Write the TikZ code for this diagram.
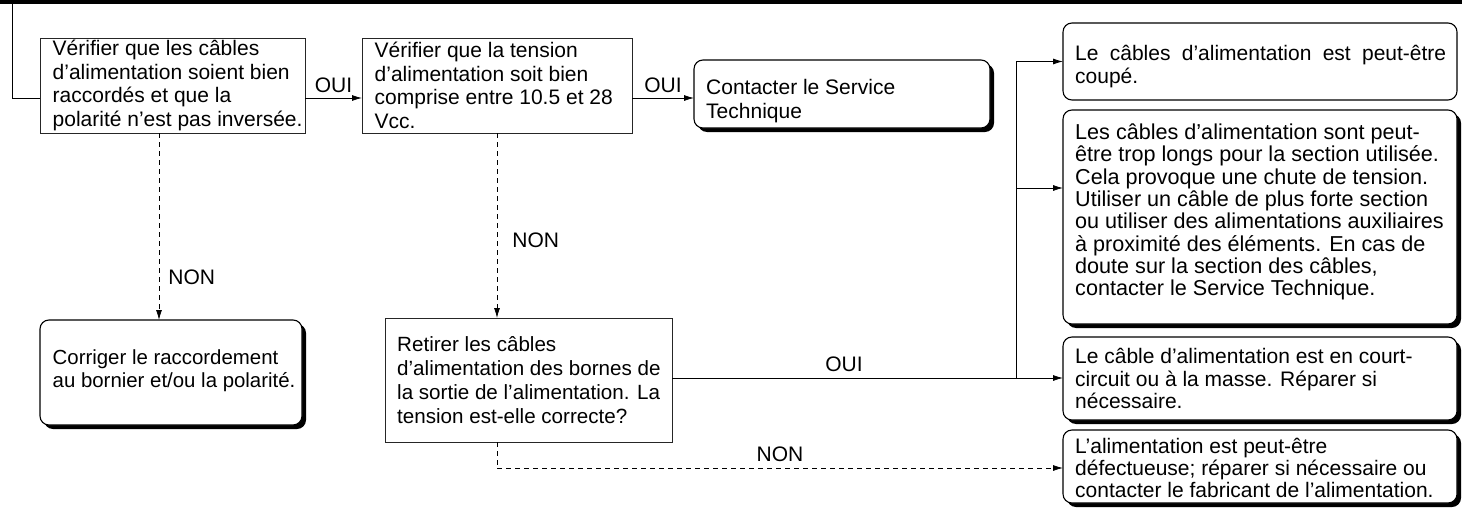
\documentclass[tikz,border=0pt]{standalone}
\usepackage{fontspec}
\setmainfont{Liberation Sans}
\usetikzlibrary{arrows.meta,shadows}
\begin{document}
\begin{tikzpicture}[x=1pt,y=-1pt,
  txt/.style={font=\fontsize{21}{23.5}\selectfont},
  sqbox/.style={draw=black!85, line width=0.8pt, rectangle, anchor=north west,
    inner sep=0pt, outer sep=0pt, fill=white},
  rbox/.style={sqbox, draw=black, rounded corners=9pt, line width=1.1pt},
  shbox/.style={rbox, general shadow={fill=black, shadow xshift=4pt, shadow yshift=-4pt}},
  btxt/.style={txt, anchor=west, align=left, inner sep=0pt},
  conn/.style={line width=0.8pt},
  arr/.style={conn, -{Latex[length=10pt,width=6pt]}},
  darr/.style={arr, dash pattern=on 5pt off 4pt},
  dline/.style={conn, dash pattern=on 5pt off 4pt},
  lbl/.style={txt, inner sep=0pt}
]
\useasboundingbox (0,0) rectangle (1467,511);
% top rule
\draw[line width=4pt] (0,2) -- (1462,2);
\coordinate (tl) at (12,2);
\coordinate (ya) at (0,98);
\coordinate (xa) at (159,0);
\coordinate (xb) at (497,0);
\coordinate (yo) at (0,378);
\coordinate (yn) at (0,468);
\coordinate (yv) at (0,188);
\coordinate (xv) at (1016,0);

% boxes
\node[sqbox, minimum width=265pt, minimum height=95pt] (b1) at (40,38) {};
\node[sqbox, minimum width=270pt, minimum height=95pt] (b2) at (362,38) {};
\node[shbox, minimum width=296pt, minimum height=68pt] (ct) at (694,60) {};
\node[shbox, minimum width=262pt, minimum height=105pt] (cr) at (40,320) {};
\node[sqbox, minimum width=287pt, minimum height=124pt] (rt) at (385,318) {};
\node[rbox, minimum width=394pt, minimum height=77pt] (r1) at (1063,23) {};
\node[shbox, minimum width=394pt, minimum height=214pt] (r2) at (1063,110) {};
\node[shbox, minimum width=394pt, minimum height=83pt] (r3) at (1063,337) {};
\node[shbox, minimum width=394pt, minimum height=73pt] (r4) at (1063,430) {};

% texts
\node[btxt] (t1) at ([xshift=12.5pt]b1.west)
  {Vérifier que les câbles\\d'alimentation soient bien\\raccordés et que la\\polarité n'est pas inversée.};
\node[btxt] (t2) at ([xshift=12.5pt]b2.west)
  {Vérifier que la tension\\d'alimentation soit bien\\comprise entre 10.5 et 28\\Vcc.};
\node[btxt] (tct) at ([xshift=12pt,yshift=-7pt]ct.west)
  {Contacter le Service\\Technique};
\node[btxt, font=\fontsize{20.4}{23.5}\selectfont] (tcr) at ([xshift=12.5pt,yshift=2pt]cr.west)
  {Corriger le raccordement\\au bornier et/ou la polarité.};
\node[btxt, font=\fontsize{20.6}{24}\selectfont] (trt) at ([xshift=12pt]rt.west)
  {Retirer les câbles\\d'alimentation des bornes de\\la sortie de l'alimentation. La\\tension est-elle correcte?};
\node[btxt] (tr1) at ([xshift=12pt,yshift=-5pt]r1.west)
  {\hbox to 371pt{Le \hfill câbles \hfill d'alimentation \hfill est \hfill peut-être}\\coupé.};
\node[btxt, font=\fontsize{21.6}{22.3}\selectfont] (tr2) at ([xshift=12pt,yshift=5pt]r2.west)
  {Les câbles d'alimentation sont peut-\\être trop longs pour la section utilisée.\\Cela provoque une chute de tension.\\Utiliser un câble de plus forte section\\ou utiliser des alimentations auxiliaires\\à proximité des éléments. En cas de\\doute sur la section des câbles,\\contacter le Service Technique.};
\node[btxt, font=\fontsize{21}{22.5}\selectfont] (tr3) at ([xshift=12pt]r3.west)
  {Le câble d'alimentation est en court-\\circuit ou à la masse. Réparer si\\nécessaire.};
\node[btxt, font=\fontsize{21}{22}\selectfont] (tr4) at ([xshift=12pt,yshift=-1pt]r4.west)
  {L'alimentation est peut-être\\défectueuse; réparer si nécessaire ou\\contacter le fabricant de l'alimentation.};

% connectors
\draw[conn] (tl) |- (b1.west |- ya);
\draw[arr] (b1.east |- ya) -- node[lbl, above=5pt] (o1) {OUI} (b2.west |- ya);
\draw[arr] (b2.east |- ya) -- node[lbl, above=5pt] (o2) {OUI} (ct.west |- ya);
\draw[darr] (b1.south -| xa) -- node[lbl, right=9pt, pos=0.77] (n1) {NON} (cr.north -| xa);
\draw[darr] (b2.south -| xb) -- node[lbl, right=15pt, pos=0.58] (n2) {NON} (rt.north -| xb);
\draw[conn] (rt.east |- yo) -- node[lbl, above=6pt] (o3) {OUI} (xv |- yo);
\draw[arr] (xv |- yo) -- (r3.west |- yo);
\draw[conn] (xv |- yo) -- (xv |- r1.west);
\draw[arr] (xv |- r1.west) -- (r1.west);
\draw[arr] (xv |- yv) -- (r2.west |- yv);
\draw[dline] (rt.south -| xb) -- (xb |- yn);
\draw[darr] (xb |- yn) -- node[lbl, above=6pt, pos=0.5] (n3) {NON} (r4.west |- yn);
\end{tikzpicture}
\end{document}
